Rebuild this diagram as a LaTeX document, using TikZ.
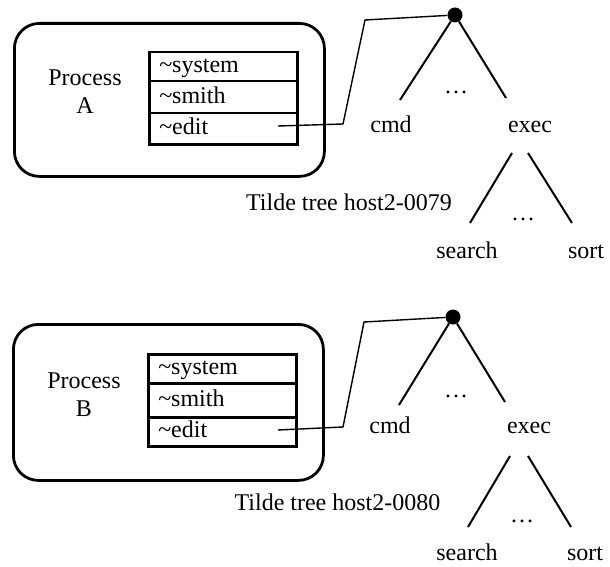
\documentclass[tikz,border=0pt]{standalone}
\usepackage{fontspec}
\setmainfont{Liberation Serif}
\begin{document}
\begin{tikzpicture}[x=1pt,y=-1pt,
  every node/.style={font=\fontsize{24}{28}\selectfont, inner sep=0pt},
  procbox/.style={draw, line width=2.8pt, rounded corners=25pt, anchor=north west, minimum width=310pt},
  tildrow/.style={draw, line width=2.5pt, anchor=north west, minimum width=148pt,
    text width=128pt, inner xsep=10pt, align=left, text height=17pt, text depth=5pt},
  lbl/.style={anchor=base},
  treeline/.style={line width=2pt},
  link/.style={line width=1.4pt},
  rootdot/.style={circle, fill=black, minimum size=15pt}
]
\useasboundingbox[fill=white] (0,0) rectangle (610,567);

% ---------- process A and its tilde tree ----------
\node[procbox, minimum height=153pt] (boxA) at (13,22) {};
\node[align=center] (procA) at (85,91.5) {Process\\A};
\node[tildrow, minimum height=29pt] (sysA) at (148,51) {\textasciitilde system};
\node[tildrow, minimum height=32pt] (smiA) at (148,80) {\textasciitilde smith};
\node[tildrow, minimum height=31pt] (ediA) at (148,112) {\textasciitilde edit};

\node[rootdot] (rootA) at (455,15) {};
\node[lbl] (cmdA) at (391,132) {cmd};
\node[lbl] (execA) at (530,132) {exec};
\node[lbl] (dotsA) at (456,94) {\dots};
\node[lbl] (searchA) at (467,258) {search};
\node[lbl] (sortA) at (586,258) {sort};
\node[lbl] (subdotsA) at (523,220) {\dots};
\node[lbl] (treeA) at (349,210) {Tilde tree host2-0079};

\coordinate (eA) at (278,126);
\coordinate (bendA1) at (343,124);
\coordinate (bendA2) at (365,20);
\draw[link] (eA) -- (bendA1) -- (bendA2) -- (rootA);

\coordinate (cmdtopA) at (400,100);
\coordinate (exectopA) at (506,98);
\coordinate (exlA) at (512,153);
\coordinate (exrA) at (528,153);
\coordinate (searchtopA) at (470,223);
\coordinate (sorttopA) at (572,223);
\draw[treeline] (rootA) -- (cmdtopA);
\draw[treeline] (rootA) -- (exectopA);
\draw[treeline] (exlA) -- (searchtopA);
\draw[treeline] (exrA) -- (sorttopA);

% ---------- process B and its tilde tree ----------
\node[procbox, minimum height=156pt] (boxB) at (12,323) {};
\node[align=center] (procB) at (84,394.5) {Process\\B};
\node[tildrow, minimum height=29pt] (sysB) at (147,353) {\textasciitilde system};
\node[tildrow, minimum height=34pt] (smiB) at (147,382) {\textasciitilde smith};
\node[tildrow, minimum height=29pt] (ediB) at (147,416) {\textasciitilde edit};

\node[rootdot] (rootB) at (453,317) {};
\node[lbl] (cmdB) at (390,433) {cmd};
\node[lbl] (execB) at (529,433) {exec};
\node[lbl] (dotsB) at (456,397) {\dots};
\node[lbl] (searchB) at (467,560) {search};
\node[lbl] (sortB) at (585,560) {sort};
\node[lbl] (subdotsB) at (522,522) {\dots};
\node[lbl] (treeB) at (337.5,510) {Tilde tree host2-0080};

\coordinate (eB) at (278,430);
\coordinate (bendB1) at (343,427);
\coordinate (bendB2) at (364,322);
\draw[link] (eB) -- (bendB1) -- (bendB2) -- (rootB);

\coordinate (cmdtopB) at (399,405);
\coordinate (exectopB) at (505,402);
\coordinate (exlB) at (510,456);
\coordinate (exrB) at (528,456);
\coordinate (searchtopB) at (468,527);
\coordinate (sorttopB) at (571,527);
\draw[treeline] (rootB) -- (cmdtopB);
\draw[treeline] (rootB) -- (exectopB);
\draw[treeline] (exlB) -- (searchtopB);
\draw[treeline] (exrB) -- (sorttopB);
\end{tikzpicture}
\end{document}
